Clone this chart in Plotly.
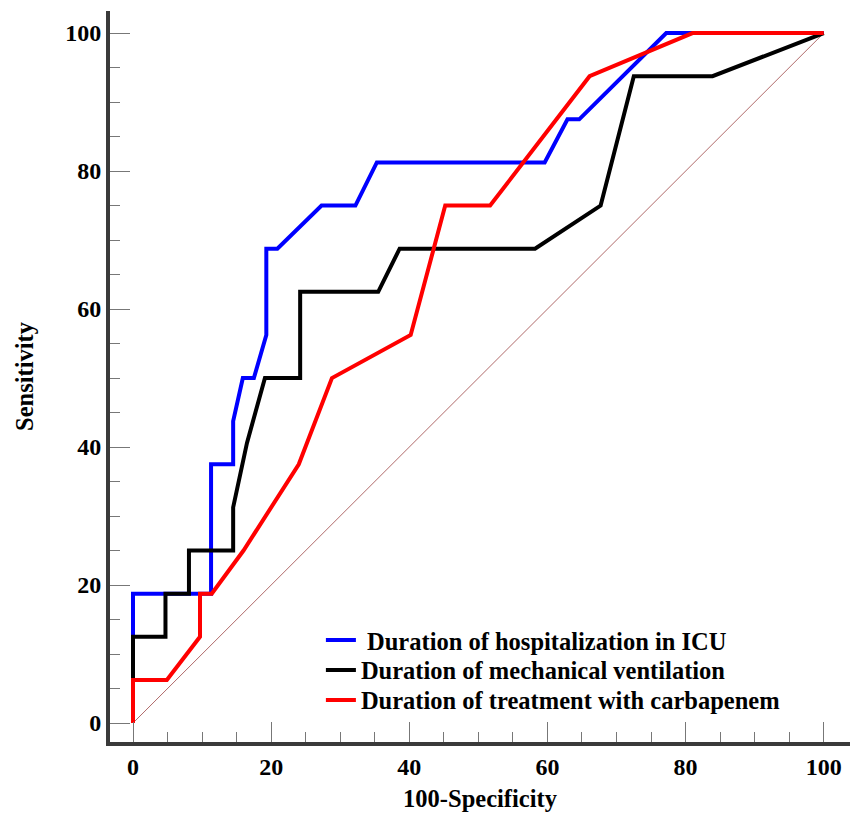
import plotly.graph_objects as go

# ROC data (100-Specificity, Sensitivity)
icu_x = [0, 0, 11.3, 11.3, 14.5, 14.5, 15.9, 17.5, 19.3, 19.3, 20.9, 27.3, 32.2, 35.3, 59.6, 62.9, 64.6, 77.2, 100]
icu_y = [0, 18.75, 18.75, 37.5, 37.5, 43.75, 50, 50, 56.25, 68.75, 68.75, 75, 75, 81.25, 81.25, 87.5, 87.5, 100, 100]

mv_x = [0, 0, 4.7, 4.7, 8.1, 8.1, 14.5, 14.5, 16.5, 19.1, 24.2, 24.2, 35.5, 38.6, 58.2, 67.7, 72.5, 83.9, 100]
mv_y = [0, 12.5, 12.5, 18.75, 18.75, 25, 25, 31.25, 40.6, 50, 50, 62.5, 62.5, 68.75, 68.75, 75, 93.75, 93.75, 100]

carb_x = [0, 0, 4.9, 9.7, 9.7, 11.4, 16, 24, 28.8, 40.2, 45.2, 51.7, 66.1, 81, 100]
carb_y = [0, 6.25, 6.25, 12.5, 18.75, 18.75, 25, 37.5, 50, 56.25, 75, 75, 93.75, 100, 100]

diag_x = [0, 100]
diag_y = [0, 100]

names = [" Duration of hospitalization in ICU",
         "Duration of mechanical ventilation",
         "Duration of treatment with carbapenem"]
colors = ["#0000ff", "#000000", "#ff0000"]

tick_vals = [0, 20, 40, 60, 80, 100]
tick_text = ["0", "20", "40", "60", "80", "100"]

FONT = "Liberation Serif"

fig = go.Figure()
fig.add_trace(go.Scatter(x=diag_x, y=diag_y, mode="lines",
                         line=dict(color="#b06a6a", width=1), showlegend=False, hoverinfo="skip"))
legend_ids = ["legend", "legend2", "legend3"]
for xs, ys, nm, c, lg in zip([icu_x, mv_x, carb_x], [icu_y, mv_y, carb_y], names, colors, legend_ids):
    fig.add_trace(go.Scatter(x=xs, y=ys, mode="lines", name=nm, legend=lg,
                             line=dict(color=c, width=4)))

axis_common = dict(
    showline=True, linecolor="#3a3a3a", linewidth=4,
    ticks="inside", ticklen=20, tickwidth=1, tickcolor="#777777",
    tickvals=tick_vals, ticktext=tick_text,
    minor=dict(dtick=5, ticks="inside", ticklen=10, tickwidth=1, tickcolor="#777777"),
    showgrid=False, zeroline=False, automargin=False,
    tickfont=dict(family=FONT, size=24, color="#000000", weight="bold"),
)

leg_font = dict(family=FONT, size=24.5, color="#000000", weight="bold")
def leg(y):
    return dict(x=0.285, y=y, xanchor="left", yanchor="middle",
                bgcolor="rgba(0,0,0,0)", borderwidth=0, font=leg_font)

fig.update_layout(
    width=856, height=820,
    margin=dict(l=110, r=6, t=11, b=78),
    paper_bgcolor="white", plot_bgcolor="white",
    xaxis=dict(range=[-3.33, 103.8], **axis_common,
               title=dict(text="100-Specificity", standoff=12,
                          font=dict(family=FONT, size=24.5, color="#000000", weight="bold"))),
    yaxis=dict(range=[-2.75, 103.2], **axis_common,
               title=dict(text="Sensitivity", standoff=26,
                          font=dict(family=FONT, size=24.5, color="#000000", weight="bold"))),
    legend=leg(0.1395),
    legend2=leg(0.0985),
    legend3=leg(0.0575),
    showlegend=True,
)

fig.write_html("out.html", config={"displayModeBar": False},
               post_script="document.body.style.margin='0px';document.body.style.overflow='hidden';")
